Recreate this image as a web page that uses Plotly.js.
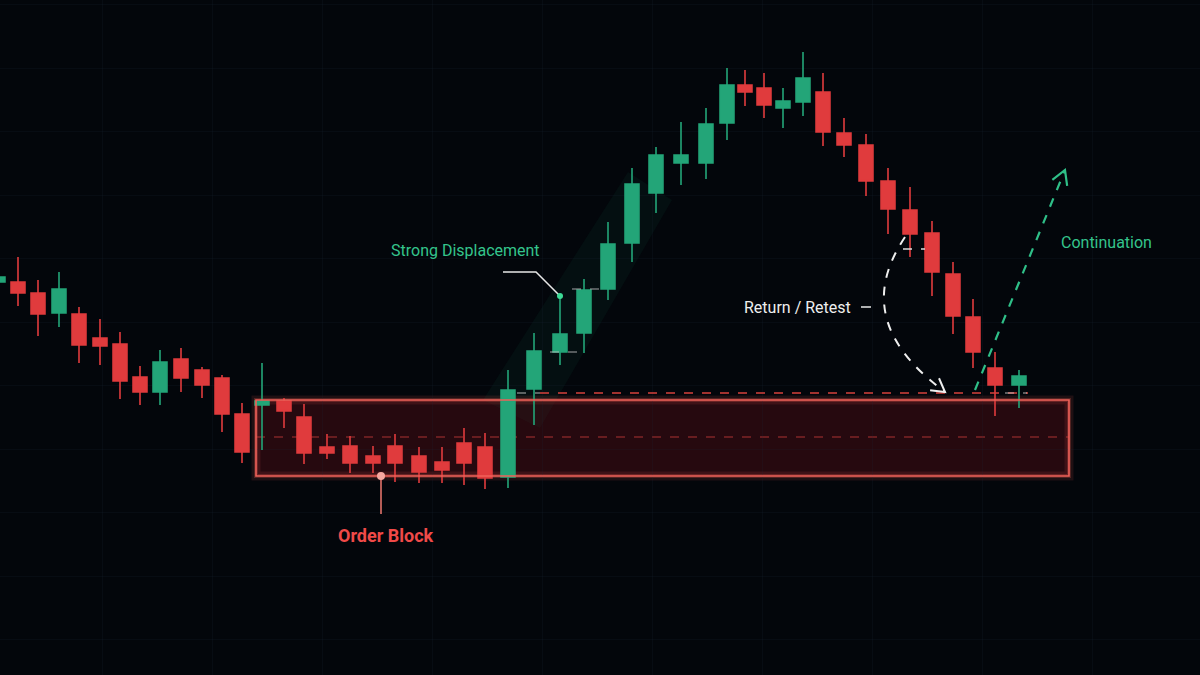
<!DOCTYPE html>
<html>
<head>
<meta charset="utf-8">
<script src="https://cdn.plot.ly/plotly-3.0.1.min.js"></script>
<style>
  html, body { margin: 0; padding: 0; background: #03060b; }
  #chart { width: 1200px; height: 675px; }
</style>
</head>
<body>
<div id="chart"></div>
<script>
// ---- Data (time position, OHLC in price points) ----
const timePos = [-2, 18, 38, 59, 79, 100, 120, 140, 160, 181, 202, 222, 242, 262, 284, 304, 327, 350, 373, 395, 419, 442, 464, 485, 508, 534, 560, 584, 608, 632, 656, 681, 706, 727, 745, 764, 783, 803, 823, 844, 866, 888, 910, 932, 953, 973, 995, 1019];
const openP  = [393, 393, 382, 362, 361, 337, 331, 298, 283, 316, 305, 297, 261, 270, 274, 258, 228, 229, 219, 229, 219, 213, 232, 228, 198, 286, 323, 342, 386, 432, 482, 512, 512, 552, 590, 587, 567, 573, 583, 542, 530, 494, 465, 442, 401, 358, 307, 290];
const highP  = [405, 418, 395, 403, 368, 356, 343, 309, 325, 327, 308, 300, 272, 312, 277, 271, 241, 239, 229, 241, 228, 228, 247, 242, 305, 342, 377, 396, 453, 507, 528, 553, 567, 607, 605, 602, 587, 623, 602, 557, 541, 507, 488, 454, 413, 376, 323, 305];
const lowP   = [390, 369, 339, 348, 312, 310, 276, 270, 270, 283, 277, 243, 212, 225, 247, 211, 216, 202, 202, 193, 192, 192, 190, 186, 187, 250, 310, 322, 375, 413, 462, 490, 496, 535, 569, 557, 547, 559, 529, 518, 479, 441, 418, 379, 341, 307, 259, 267];
const closeP = [398, 382, 361, 386, 330, 329, 294, 283, 313, 297, 290, 261, 223, 274, 264, 222, 222, 212, 212, 212, 203, 205, 212, 197, 285, 324, 341, 385, 431, 491, 520, 520, 551, 590, 583, 570, 574, 597, 543, 530, 494, 466, 441, 403, 359, 323, 290, 299];

// Key levels / annotation anchors (price points, time positions)
const obStart = 256, obEnd = 1069;
const obHigh = 275, obLow = 199, obMid = 238;
const retestLevel = 282;
const labels = {
  displacement: "Strong Displacement",
  orderBlock: "Order Block",
  retest: "Return / Retest",
  continuation: "Continuation"
};

const GREEN = '#23a578';
const RED = '#e03b3d';
const BOX = '#f0625a';

const trace = {
  type: 'candlestick',
  x: timePos, open: openP, high: highP, low: lowP, close: closeP,
  increasing: { line: { color: GREEN, width: 1.6 }, fillcolor: GREEN },
  decreasing: { line: { color: RED, width: 1.6 }, fillcolor: RED },
  whiskerwidth: 0,
  hoverinfo: 'skip',
  showlegend: false
};

// arrowhead helper (axes are 1 unit per pixel, so angles are true)
function arrowHead(tx, ty, fx, fy, len, col, w) {
  const dx = tx - fx, dy = ty - fy;
  const L = Math.hypot(dx, dy);
  const ux = dx / L, uy = dy / L;
  const a = Math.PI / 6;
  const p1x = tx - len * (ux * Math.cos(a) - uy * Math.sin(a));
  const p1y = ty - len * (ux * Math.sin(a) + uy * Math.cos(a));
  const p2x = tx - len * (ux * Math.cos(-a) - uy * Math.sin(-a));
  const p2y = ty - len * (ux * Math.sin(-a) + uy * Math.cos(-a));
  return { type: 'path', xref: 'x', yref: 'y',
    path: `M${p1x},${p1y} L${tx},${ty} L${p2x},${p2y}`,
    line: { color: col, width: w } };
}

const shapes = [
  // displacement band
  { type: 'path', xref: 'x', yref: 'y', layer: 'below',
    path: 'M483,275 L628,503 L672,475 L540,247 Z',
    fillcolor: 'rgba(35,170,120,0.06)', line: { width: 0 } },
  // order block glow + fill
  { type: 'rect', xref: 'x', yref: 'y', layer: 'below', x0: obStart, x1: obEnd, y0: obLow, y1: obHigh,
    fillcolor: 'rgba(120,18,26,0.3)', line: { color: 'rgba(240,90,80,0.12)', width: 9 } },
  { type: 'rect', xref: 'x', yref: 'y', layer: 'below', x0: obStart, x1: obEnd, y0: obLow, y1: obHigh,
    fillcolor: 'rgba(0,0,0,0)', line: { color: 'rgba(240,90,80,0.25)', width: 4 } },
  { type: 'rect', xref: 'x', yref: 'y', layer: 'above', x0: obStart, x1: obEnd, y0: obLow, y1: obHigh,
    fillcolor: 'rgba(0,0,0,0)', line: { color: BOX, width: 1.6 } },
  // OB midline
  { type: 'line', xref: 'x', yref: 'y', layer: 'below', x0: obStart, x1: obEnd, y0: obMid, y1: obMid,
    line: { color: 'rgba(200,60,60,0.55)', width: 1.3, dash: 'dash' } },
  // retest level
  { type: 'line', xref: 'x', yref: 'y', x0: 540, x1: 1028, y0: retestLevel, y1: retestLevel,
    line: { color: '#d6423d', width: 1.4, dash: 'dash' } },
  // grey level ticks
  { type: 'line', xref: 'x', yref: 'y', x0: 517, x1: 540, y0: retestLevel, y1: retestLevel,
    line: { color: 'rgba(200,200,200,0.6)', width: 1.3, dash: 'dash' } },
  { type: 'line', xref: 'x', yref: 'y', x0: 550, x1: 583, y0: 323, y1: 323,
    line: { color: 'rgba(200,200,200,0.55)', width: 1.3, dash: 'dash' } },
  { type: 'line', xref: 'x', yref: 'y', x0: 572, x1: 600, y0: 386, y1: 386,
    line: { color: 'rgba(200,200,200,0.55)', width: 1.3, dash: 'dash' } },
  { type: 'line', xref: 'x', yref: 'y', x0: 1005, x1: 1027, y0: retestLevel, y1: retestLevel,
    line: { color: 'rgba(200,200,200,0.6)', width: 1.3, dash: 'dash' } },
  // displacement leader
  { type: 'path', xref: 'x', yref: 'y', path: 'M503,403 L536,403 L560,379',
    line: { color: '#e8e8e8', width: 1.5 } },
  { type: 'circle', xref: 'x', yref: 'y', x0: 557, x1: 563, y0: 376, y1: 382,
    fillcolor: '#3ddc97', line: { width: 0 } },
  // order block leader
  { type: 'line', xref: 'x', yref: 'y', x0: 381, x1: 381, y0: obLow, y1: 161,
    line: { color: '#f07a70', width: 1.5 } },
  { type: 'circle', xref: 'x', yref: 'y', x0: 377, x1: 385, y0: obLow - 4, y1: obLow + 4,
    fillcolor: '#f6a8a0', line: { width: 0 } },
  // retest label dash
  { type: 'line', xref: 'x', yref: 'y', x0: 861, x1: 871, y0: 368, y1: 368,
    line: { color: '#e8e8e8', width: 1.5 } },
  // retest curve
  { type: 'path', xref: 'x', yref: 'y', path: 'M905,438 C875,393 868,340 945,283',
    line: { color: '#eeeeee', width: 2, dash: 'dash' } },
  { type: 'line', xref: 'x', yref: 'y', x0: 903, x1: 925, y0: 426, y1: 426,
    line: { color: '#dddddd', width: 1.5, dash: 'dash' } },
  arrowHead(945, 283, 868, 340, 15, '#eeeeee', 2),
  // continuation arrow
  { type: 'line', xref: 'x', yref: 'y', x0: 975, y0: 285, x1: 1065, y1: 505,
    line: { color: '#2fbf88', width: 2.2, dash: 'dash' } },
  arrowHead(1065, 505, 975, 285, 16, '#2fbf88', 2.2)
];

const annotations = [
  { xref: 'x', yref: 'y', x: 465, y: 425, text: labels.displacement, showarrow: false,
    font: { family: 'Roboto, sans-serif', size: 16, color: '#34c48c' } },
  { xref: 'x', yref: 'y', x: 386, y: 140, text: '<b>' + labels.orderBlock + '</b>', showarrow: false,
    font: { family: 'Roboto, sans-serif', size: 18, color: '#f04a48' } },
  { xref: 'x', yref: 'y', x: 797, y: 368, text: labels.retest, showarrow: false,
    font: { family: 'Roboto, sans-serif', size: 16, color: '#eeeeee' } },
  { xref: 'x', yref: 'y', x: 1106, y: 433, text: labels.continuation, showarrow: false,
    font: { family: 'Roboto, sans-serif', size: 16, color: '#34c48c' } }
];

const layout = {
  width: 1200, height: 675,
  margin: { l: 0, r: 0, t: 0, b: 0 },
  paper_bgcolor: '#03060b',
  plot_bgcolor: '#03060b',
  boxgap: 0.14, boxgroupgap: 0.1,
  showlegend: false,
  xaxis: { range: [0, 1200], showgrid: true, gridcolor: 'rgba(30,42,60,0.16)', gridwidth: 1,
    tick0: 102, dtick: 110, zeroline: false, showticklabels: false, ticks: '',
    rangeslider: { visible: false }, fixedrange: true },
  yaxis: { range: [0, 675], showgrid: true, gridcolor: 'rgba(30,42,60,0.16)', gridwidth: 1,
    tick0: 480, dtick: 63.5, zeroline: false, showticklabels: false, ticks: '', fixedrange: true },
  shapes: shapes,
  annotations: annotations,
  hovermode: false
};

Plotly.newPlot('chart', [trace], layout, { displayModeBar: false, staticPlot: true });
</script>
</body>
</html>
